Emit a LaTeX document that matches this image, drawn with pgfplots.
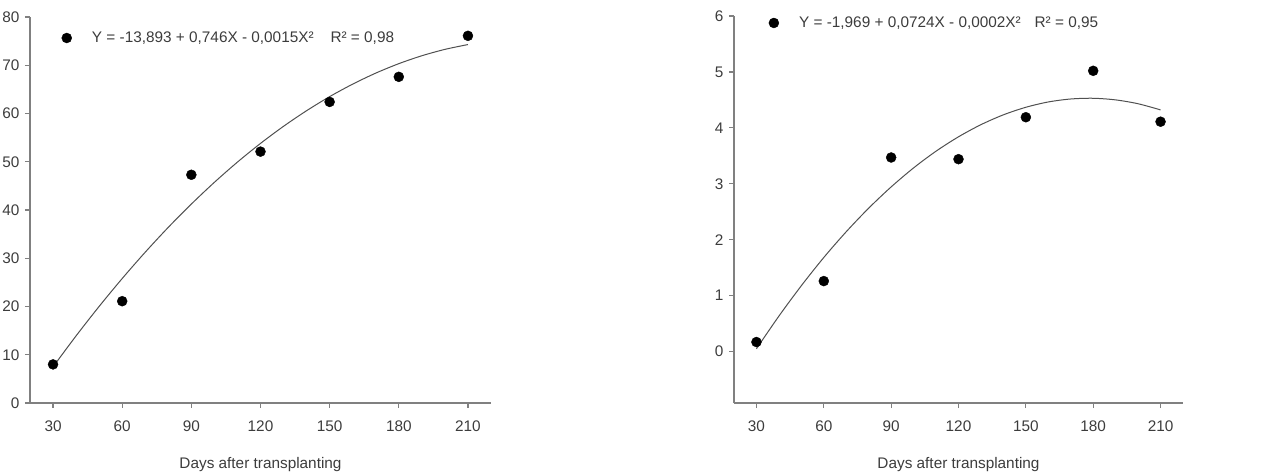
\documentclass[border=0pt]{standalone}
\usepackage{fontspec}
\setmainfont{Liberation Sans}
\usepackage{pgfplots}
\pgfplotsset{compat=1.18}
\definecolor{txt}{HTML}{3C3C3C}
\definecolor{axc}{HTML}{808080}
\definecolor{crv}{HTML}{505050}

\pgfplotsset{
 panel/.style={
   scale only axis, axis x line*=bottom, axis y line*=left,
   xmin=20, xmax=220, xtick={30,60,...,210},
   tick align=outside, major tick length=5bp,
   axis line style={axc, line width=1.3bp}, tick style={axc, line width=1.2bp},
   every tick label/.append style={font=\fontsize{15.4}{18}\selectfont, text=txt},
   xticklabel style={yshift=-9bp},
   yticklabel style={xshift=-2bp},
   /pgf/number format/assume math mode=true,
   xlabel={Days after transplanting},
   xlabel style={font=\fontsize{15.4}{18}\selectfont, text=txt, yshift=-19bp},
   legend style={draw=none, fill=none, font=\fontsize{15.4}{18}\selectfont, text=txt, anchor=west, inner sep=0pt},
   legend cell align=left,
   clip=false,
 },
 dots/.style={only marks, mark=*, mark size=5bp, black,
   legend image code/.code={\fill[black] (0bp,0bp) circle (5bp); \path (23bp,0bp);}},
 fit/.style={crv, line width=1bp, smooth, forget plot},
}

\begin{document}
\begin{tikzpicture}
\path[use as bounding box] (0,0) rectangle (1274bp,473bp);

\begin{axis}[panel, at={(30bp,70bp)}, anchor=south west,
  width=461bp, height=386bp, ymin=0, ymax=80, ytick={0,10,...,80},
  legend style={at={(0.068,0.9456)}}]
\addplot[fit] table {
x y
30 7.50
40 13.92
50 20.02
60 25.80
70 31.26
80 36.41
90 41.23
100 45.74
110 49.93
120 53.80
130 57.35
140 60.58
150 63.50
160 66.09
170 68.37
180 70.33
190 71.97
200 73.29
210 74.29
};
\addplot[dots] table {
x y
30 8.0
60 21.1
90 47.3
120 52.1
150 62.4
180 67.6
210 76.1
};
\addlegendentry{Y = -13,893 + 0,746X - 0,0015X²\hspace{1.1em}R² = 0,98}
\end{axis}

\begin{axis}[panel, at={(734bp,70bp)}, anchor=south west,
  width=449bp, height=387bp, ymin=-0.92, ymax=6, ytick={0,1,...,6},
  legend style={at={(0.0768,0.982)}}]
\addplot[fit] table {
x y
30 0.050
40 0.634
50 1.178
60 1.682
70 2.143
80 2.564
90 2.944
100 3.284
110 3.583
120 3.840
130 4.057
140 4.233
150 4.368
160 4.463
170 4.516
180 4.529
190 4.500
200 4.431
210 4.321
};
\addplot[dots] table {
x y
30 0.17
60 1.26
90 3.47
120 3.44
150 4.19
180 5.02
210 4.11
};
\addlegendentry{Y = -1,969 + 0,0724X - 0,0002X²\hspace{0.9em}R² = 0,95}
\end{axis}
\end{tikzpicture}
\end{document}
